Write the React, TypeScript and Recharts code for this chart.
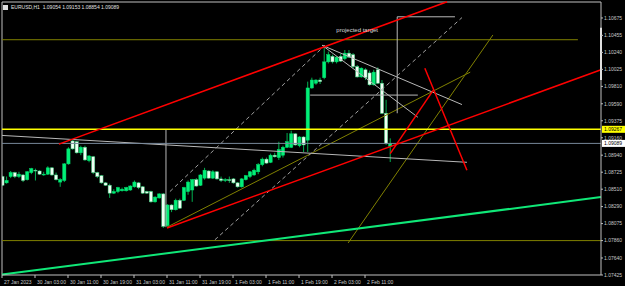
import { Bar, ComposedChart, ReferenceDot, ReferenceLine, XAxis, YAxis } from 'recharts';

// hourly EURUSD bars, 27 Jan 19:00 .. 2 Feb 17:00
const opens = [
  1.0867, 1.0859, 1.0867, 1.0872, 1.0867, 1.0869, 1.0863, 1.0872, 1.0875, 1.0874,
  1.0869, 1.087, 1.0878, 1.0869, 1.086, 1.0862, 1.0883, 1.0912, 1.0911, 1.0897,
  1.0904, 1.0887, 1.0892, 1.0872, 1.0868, 1.0859, 1.0856, 1.0846, 1.0848, 1.0849,
  1.0849, 1.085, 1.0854, 1.0859, 1.0854, 1.0848, 1.0848, 1.0835, 1.084, 1.0845,
  1.0805, 1.0831, 1.0825, 1.0837, 1.0837, 1.0848, 1.085, 1.0863, 1.0856, 1.0865,
  1.0874, 1.0865, 1.0873, 1.0864, 1.0862, 1.0863, 1.0864, 1.0859, 1.0854, 1.0863,
  1.0867, 1.0869, 1.0873, 1.0882, 1.0889, 1.0885, 1.0894, 1.0891, 1.0894, 1.0904,
  1.0904, 1.0921, 1.0906, 1.0917, 1.0913, 1.0979, 1.0985, 1.0989, 1.0992, 1.1012,
  1.1019, 1.1012, 1.1019, 1.1016, 1.1023, 1.1021, 1.1006, 1.0993, 1.1002, 1.0998,
  1.0983, 1.1002, 1.0985, 1.0947, 1.09054,
];
const highs = [
  1.0868, 1.0867, 1.0874, 1.0873, 1.0873, 1.087, 1.0874, 1.0878, 1.0877, 1.0875,
  1.0873, 1.088, 1.0879, 1.0872, 1.0865, 1.0884, 1.0904, 1.0913, 1.0912, 1.0906,
  1.0906, 1.0894, 1.0893, 1.0873, 1.0869, 1.086, 1.0858, 1.0851, 1.0854, 1.0853,
  1.0854, 1.0856, 1.0862, 1.086, 1.0855, 1.0849, 1.0849, 1.0842, 1.0846, 1.0846,
  1.0832, 1.0832, 1.0839, 1.0839, 1.0854, 1.0862, 1.0864, 1.0865, 1.087, 1.0878,
  1.0875, 1.0875, 1.0874, 1.0867, 1.0865, 1.0867, 1.0865, 1.086, 1.0865, 1.0869,
  1.0874, 1.0877, 1.0884, 1.0891, 1.0891, 1.0896, 1.0897, 1.0911, 1.0906, 1.0922,
  1.0925, 1.0922, 1.0918, 1.0918, 1.0987, 1.0992, 1.099, 1.0992, 1.1033, 1.1025,
  1.1021, 1.1019, 1.1022, 1.1027, 1.1027, 1.1023, 1.1008, 1.1005, 1.1004, 1.1001,
  1.1002, 1.1005, 1.0989, 1.0964, 1.09153,
];
const lows = [
  1.0855, 1.0858, 1.0865, 1.0865, 1.0865, 1.086, 1.0862, 1.087, 1.0862, 1.0869,
  1.0868, 1.0869, 1.0868, 1.0862, 1.0854, 1.086, 1.0882, 1.0901, 1.0896, 1.0894,
  1.0887, 1.0885, 1.087, 1.0865, 1.0858, 1.0855, 1.084, 1.0845, 1.0846, 1.0848,
  1.0848, 1.0849, 1.0853, 1.0851, 1.0845, 1.0845, 1.0834, 1.0834, 1.0839, 1.0802,
  1.0804, 1.0822, 1.0824, 1.0826, 1.0836, 1.0844, 1.0835, 1.0854, 1.0855, 1.0863,
  1.0864, 1.0864, 1.0863, 1.086, 1.086, 1.0859, 1.0858, 1.0853, 1.0853, 1.0862,
  1.0865, 1.0868, 1.087, 1.088, 1.0883, 1.0884, 1.0891, 1.0888, 1.0891, 1.0903,
  1.0903, 1.0906, 1.0904, 1.0898, 1.0898, 1.0978, 1.0983, 1.0984, 1.099, 1.101,
  1.101, 1.101, 1.1012, 1.1014, 1.1017, 1.1004, 1.0992, 1.0992, 1.0989, 1.0982,
  1.0982, 1.0984, 1.0946, 1.0907, 1.08854,
];
const closes = [
  1.0856, 1.0862, 1.0872, 1.0867, 1.087, 1.0862, 1.0873, 1.0877, 1.0874, 1.087,
  1.087, 1.0878, 1.0869, 1.0863, 1.0863, 1.0883, 1.0902, 1.0902, 1.0897, 1.0904,
  1.0888, 1.0893, 1.0872, 1.0867, 1.0859, 1.0856, 1.0846, 1.0848, 1.0853, 1.0851,
  1.0853, 1.0855, 1.086, 1.0853, 1.0846, 1.0846, 1.0835, 1.0841, 1.0845, 1.0804,
  1.0831, 1.0825, 1.0837, 1.0827, 1.0853, 1.086, 1.0863, 1.0855, 1.0869, 1.0875,
  1.0865, 1.0873, 1.0864, 1.0862, 1.0863, 1.0862, 1.0859, 1.0854, 1.0864, 1.0868,
  1.0873, 1.0875, 1.0882, 1.0889, 1.0884, 1.0894, 1.0892, 1.0901, 1.0904, 1.0911,
  1.0921, 1.0907, 1.0917, 1.0907, 1.0979, 1.0989, 1.0989, 1.0987, 1.1012, 1.1021,
  1.1012, 1.1018, 1.1013, 1.1023, 1.1018, 1.1006, 1.0993, 1.1004, 1.0992, 1.0983,
  1.0999, 1.0985, 1.0947, 1.0909, 1.09089,
];

const timeTickBars = [0, 8, 16, 24, 32, 40, 48, 56, 64, 72, 80, 88];
const timeTickLabels = [
  '27 Jan 2023', '30 Jan 03:00', '30 Jan 11:00', '30 Jan 19:00', '31 Jan 03:00', '31 Jan 11:00',
  '31 Jan 19:00', '1 Feb 03:00', '1 Feb 11:00', '1 Feb 19:00', '2 Feb 03:00', '2 Feb 11:00',
];
const priceTicks = [
  1.07425, 1.0764, 1.0786, 1.08075, 1.0829, 1.0851, 1.08725, 1.0894,
  1.0916, 1.09375, 1.0959, 1.0981, 1.10025, 1.1024, 1.10455, 1.10675,
];

const bidPrice = 1.09089;
const levelPrice = 1.09267;

// drawn objects: [bar index, price] pairs
const redLines = [
  [[13.8, 1.0908], [107.9, 1.1088]],
  [[40.0, 1.0802], [145.2, 1.1002]],
  [[94.1, 1.0896], [104.5, 1.0976]],
  [[102.5, 1.1004], [112.7, 1.0875]],
];
const greenLines = [[[0, 1.0743], [145.2, 1.0841]]];
const oliveLines = [
  [[0, 1.104], [139.6, 1.104]],
  [[0, 1.0786], [145.2, 1.0786]],
  [[40.0, 1.0803], [113.5, 1.0999]],
  [[83.9, 1.0783], [119.0, 1.1046]],
];
const greyLines = [
  [[0, 1.0919], [112.7, 1.0885]],
  [[39.75, 1.0926], [39.75, 1.0803]],
  [[95.8, 1.1069], [95.8, 1.0947]],
  [[95.8, 1.1069], [109.8, 1.1069]],
  [[74.7, 1.097], [100.8, 1.097]],
  [[77.6, 1.1033], [111.5, 1.0958]],
  [[77.6, 1.1033], [100.8, 1.0942]],
];
const dashedLines = [
  [[40.7, 1.0848], [78.3, 1.1033]],
  [[51.6, 1.0787], [111.5, 1.1068]],
];
const markerBar = [[[145.2, 1.1055], [145.2, 1.0989]]];

const rows = opens.map((open, i) => ({
  i,
  open,
  high: highs[i],
  low: lows[i],
  close: closes[i],
}));

const FONT = '"Liberation Sans", Arial, sans-serif';

function Candle(props: any) {
  const { x, y, width, height, payload } = props;
  const { open, close, high, low } = payload;
  const k = height / (high - low);
  const py = (p: number) => y + (high - p) * k;
  const cx = x + width / 2;
  const up = close >= open;
  const top = py(Math.max(open, close));
  const bot = py(Math.min(open, close));
  return (
    <g>
      <line x1={cx} x2={cx} y1={y} y2={y + height} stroke="#00b050" strokeWidth={1} />
      <rect
        x={cx - 1.6}
        y={top}
        width={3.2}
        height={Math.max(bot - top, 0.8)}
        fill={up ? '#00f078' : '#f0fff4'}
        stroke={up ? '#00e070' : '#40d080'}
        strokeWidth={0.5}
      />
    </g>
  );
}

function TimeTick(props: any) {
  const { x, payload } = props;
  const idx = timeTickBars.indexOf(payload.value);
  return (
    <g>
      <line x1={x} x2={x} y1={275} y2={278} stroke="#c0c0c0" />
      <text x={x + 2} y={284} fill="#c8c8c8" fontSize={5} fontFamily={FONT}>
        {timeTickLabels[idx]}
      </text>
    </g>
  );
}

function PriceTick(props: any) {
  const { y, payload } = props;
  return (
    <g>
      <line x1={601} x2={603} y1={y} y2={y} stroke="#c0c0c0" />
      <text x={604} y={y + 1.8} fill="#c8c8c8" fontSize={5} fontFamily={FONT}>
        {payload.value.toFixed(5)}
      </text>
    </g>
  );
}

function PriceBox({ viewBox, value, bg }: any) {
  const right = viewBox.x + viewBox.width;
  return (
    <g>
      <rect x={right + 1} y={viewBox.y - 3.5} width={23} height={7} fill={bg} />
      <text x={right + 3} y={viewBox.y + 1.8} fill="#000" fontSize={5} fontFamily={FONT}>
        {value}
      </text>
    </g>
  );
}

function segs(list: number[][][], color: string, width: number, dash?: string) {
  return list.map((s, k) => (
    <ReferenceLine
      key={color + k}
      segment={[{ x: s[0][0], y: s[0][1] }, { x: s[1][0], y: s[1][1] }]}
      stroke={color}
      strokeWidth={width}
      strokeDasharray={dash}
      ifOverflow="visible"
    />
  ));
}

export default function App() {
  return (
    <div style={{ position: 'fixed', left: 0, top: 0, width: 625, height: 286, background: '#000' }}>
      <ComposedChart
        width={625}
        height={286}
        data={rows}
        margin={{ top: 2, right: 0, bottom: 0, left: 2 }}
      >
        <XAxis
          dataKey="i"
          type="number"
          domain={[0, 145.2]}
          ticks={timeTickBars}
          interval={0}
          tick={<TimeTick />}
          tickLine={false}
          height={11}
          axisLine={{ stroke: '#c0c0c0' }}
          allowDataOverflow
        />
        <YAxis
          orientation="right"
          type="number"
          domain={[1.07425, 1.10877]}
          ticks={priceTicks}
          interval={0}
          tick={<PriceTick />}
          tickLine={false}
          width={24}
          axisLine={{ stroke: '#c0c0c0' }}
          allowDataOverflow
        />
        <ReferenceLine y={1.10877} stroke="#c0c0c0" />
        <ReferenceLine x={0} stroke="#c0c0c0" />

        {segs(oliveLines, '#808000', 1)}
        {segs(greyLines, '#b8b8b8', 1)}
        {segs(dashedLines, '#a0a0a0', 1, '4 3')}
        {segs(greenLines, '#10e878', 2)}
        <ReferenceLine
          y={bidPrice}
          stroke="#77889a"
          strokeWidth={1}
          label={<PriceBox value={bidPrice.toFixed(5)} bg="#ffffff" />}
        />

        <Bar
          dataKey={(d: any) => [d.low, d.high]}
          barSize={3}
          shape={<Candle />}
          isAnimationActive={false}
        />

        <ReferenceLine
          y={levelPrice}
          stroke="#ffff00"
          strokeWidth={1.5}
          label={<PriceBox value={levelPrice.toFixed(5)} bg="#ffff00" />}
        />
        {segs(redLines, '#ff0000', 1.5)}
        {segs(markerBar, '#ffffff', 2)}
        <ReferenceDot
          x={86.1}
          y={1.10523}
          r={0}
          fill="none"
          stroke="none"
          label={{ value: 'projected target', position: 'center', fill: '#d8d8d8', fontSize: 6, fontFamily: FONT }}
        />
      </ComposedChart>
      <div
        style={{
          position: 'absolute',
          left: 3,
          top: 4,
          color: '#e0e0e0',
          fontSize: 5,
          fontFamily: FONT,
          display: 'flex',
          alignItems: 'center',
          gap: 3,
          lineHeight: '7px',
        }}
      >
        <span style={{ display: 'inline-block', width: 5, height: 5, background: '#e0e0e0' }} />
        <span>EURUSD,H1&nbsp; 1.09054 1.09153 1.08854 1.09089</span>
      </div>
    </div>
  );
}
